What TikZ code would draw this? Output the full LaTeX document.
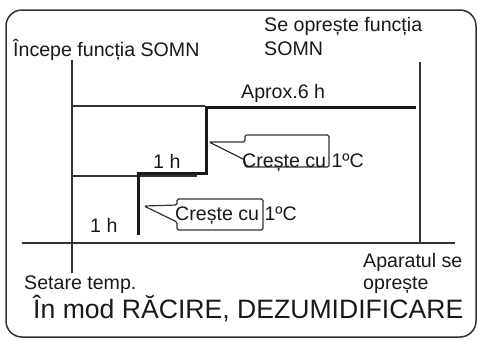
\documentclass[tikz,border=0pt]{standalone}
\usepackage{fontspec}
\setmainfont{Liberation Sans}
\definecolor{ln}{HTML}{333333}
\definecolor{thk}{HTML}{1A1A1A}
\begin{document}
\begin{tikzpicture}[x=1pt,y=-1pt,
  thin/.style={draw=ln,line width=1.2pt},
  axis/.style={draw=ln,line width=1.4pt},
  thick/.style={draw=thk,line width=3pt,line join=miter},
  callout/.style={draw=ln,line width=1.2pt,fill=white,rounded corners=1.5pt},
  lbl/.style={anchor=base west,inner sep=0pt,font=\fontsize{19.6}{21}\selectfont,text=black!90},
  big/.style={anchor=base west,inner sep=0pt,font=\fontsize{26.6}{28}\selectfont,text=black!90}]
\useasboundingbox (0,0) rectangle (478,340);
% frame
\draw[draw=ln,line width=1.5pt,rounded corners=16pt] (6,10) rectangle (476,337);
% coordinates
\coordinate (Ltop) at (72,60);
\coordinate (Lbot) at (72,273);
\coordinate (Rtop) at (420,62);
\coordinate (Rbot) at (420,242);
\coordinate (axL) at (22,243);
\coordinate (axR) at (455,243);
\coordinate (t1a) at (72,106);
\coordinate (t1b) at (205,106);
\coordinate (t2a) at (72,176);
\coordinate (t2b) at (197,176);
\coordinate (k1) at (416,107);
\coordinate (k2) at (206,107);
\coordinate (k3) at (206,173);
\coordinate (k4) at (138,173);
\coordinate (k5) at (138,235);
% axes
\draw[thin] (Ltop) -- (Lbot);
\draw[thin] (Rtop) -- (Rbot);
\draw[axis] (axL) -- (axR);
\draw[thin] (t1a) -- (t1b);
\draw[thin] (t2a) -- (t2b);
\draw[thick] (k1) -- (k2) -- (k3) -- (k4) -- (k5);
% callout 1
\coordinate (c1tip) at (209,142);
\draw[callout] (c1tip) -- (245,142) -- (245,135) -- (329,135) -- (329,167) -- (245,167) -- (245,160) -- cycle;
% callout 2
\coordinate (c2tip) at (144,206);
\draw[callout] (c2tip) -- (177,205) -- (177,199) -- (263,199) -- (263,230) -- (177,230) -- (177,222) -- cycle;
% labels
\node[lbl] (start) at (13,56) {Începe funcția SOMN};
\node[lbl] (stop1) at (264,31) {Se oprește funcția};
\node[lbl] (stop2) at (264,55) {SOMN};
\node[lbl] (aprox) at (241,98) {Aprox.6 h};
\node[lbl] (h1) at (153,168) {1 h};
\node[lbl] (h2) at (90,232) {1 h};
\node[lbl] (cr1) at (242,167) {Crește cu 1ºC};
\node[lbl] (cr2) at (175,220) {Crește cu 1ºC};
\node[lbl] (setare) at (24,289) {Setare temp.};
\node[lbl] (apar1) at (363,267) {Aparatul se};
\node[lbl] (apar2) at (363,289) {oprește};
\node[big] (mode) at (33,318) {În mod RĂCIRE, DEZUMIDIFICARE};
\end{tikzpicture}
\end{document}
